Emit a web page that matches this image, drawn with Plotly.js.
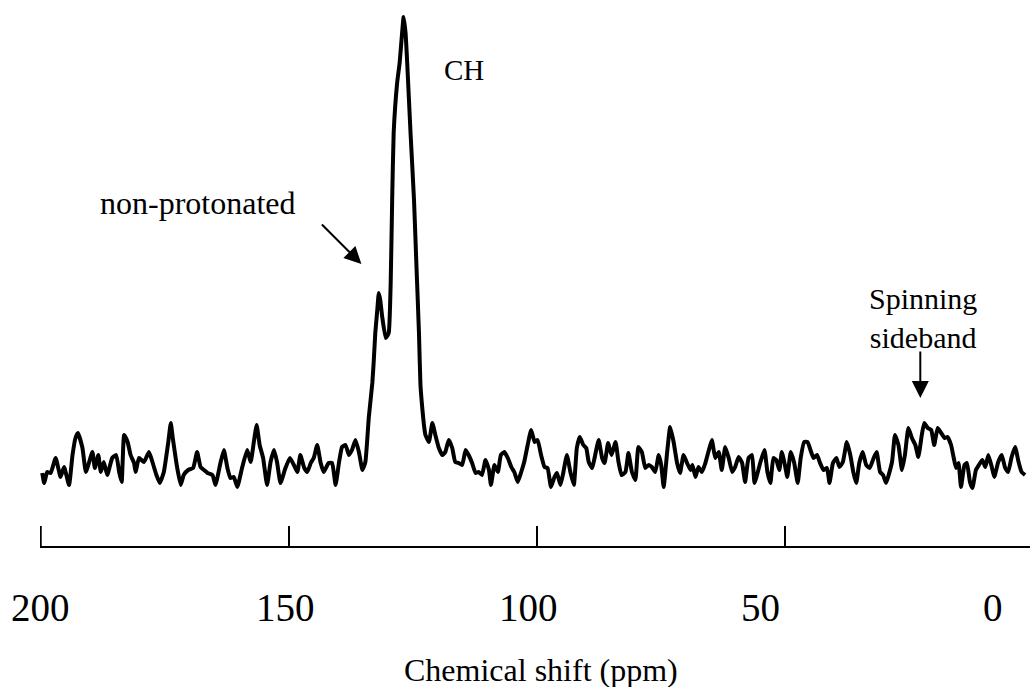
<!DOCTYPE html>
<html>
<head>
<meta charset="utf-8">
<script src="https://cdn.plot.ly/plotly-3.0.1.min.js"></script>
<style>html,body{margin:0;padding:0;background:#fff;}#chart{width:1030px;height:687px;}</style>
</head>
<body>
<div id="chart"></div>
<script>
// Chemical shift (ppm) of each sampled point of the spectrum
var shiftPpm = [
199.7,199.3,198.7,198.0,197.0,196.0,195.3,194.3,193.6,193.0,192.5,191.6,190.9,189.6,189.1,188.4,187.9,187.3,186.6,185.6,
184.8,184.2,183.7,183.2,182.5,181.9,181.2,180.9,180.2,179.2,178.2,177.5,176.7,176.0,175.2,174.3,173.8,173.4,172.5,171.8,
171.2,170.3,169.3,168.5,167.8,167.1,166.4,165.4,164.8,163.8,163.1,162.4,161.8,161.1,160.4,159.4,158.4,157.7,157.1,156.5,
155.9,155.2,154.4,153.7,153.0,152.4,151.7,150.7,149.8,149.0,148.3,147.7,146.9,146.3,145.6,145.0,144.3,143.6,143.0,142.0,
141.3,140.6,139.9,139.3,138.6,137.9,137.3,136.6,135.9,135.2,134.6,133.9,133.2,132.9,132.6,132.2,131.9,131.6,131.2,130.5,
129.9,129.5,129.2,128.9,128.2,127.7,127.2,126.9,126.5,126.2,125.5,124.8,124.3,123.8,123.5,123.1,122.8,122.5,121.8,121.1,
120.5,119.8,119.1,118.5,117.8,117.1,116.5,115.8,115.1,114.4,113.8,113.1,112.4,111.8,111.1,110.4,109.7,109.3,108.6,107.9,
107.3,106.6,105.9,105.2,104.6,103.9,103.2,102.6,101.9,101.2,100.5,99.9,99.2,98.5,97.9,97.2,96.5,96.0,95.3,94.7,
94.0,93.3,92.6,92.0,91.4,90.7,90.1,89.6,88.9,88.3,87.6,86.9,86.4,85.7,85.0,84.2,83.6,83.0,82.2,81.6,
80.9,80.2,79.6,78.9,78.2,77.5,76.9,76.2,75.5,75.0,74.5,73.8,73.2,72.5,71.8,71.2,70.5,69.8,69.1,68.7,
68.1,67.5,66.8,66.1,65.5,64.8,64.1,63.4,62.8,62.1,61.4,60.7,60.1,59.4,58.7,58.1,57.4,56.7,56.2,55.0,
54.2,53.6,53.0,52.4,51.8,51.2,50.7,50.0,49.6,48.9,48.2,47.5,46.9,46.2,45.5,44.8,44.3,43.6,43.0,42.3,
41.6,41.1,40.4,39.7,39.1,38.4,37.6,36.9,36.3,35.7,35.1,34.4,33.7,33.0,32.2,31.6,30.9,30.3,29.7,28.5,
27.9,27.2,26.5,25.9,25.2,24.5,23.8,23.2,22.5,22.0,21.3,20.6,20.0,19.3,18.6,17.9,17.3,16.6,16.1,15.6,
15.1,14.6,13.9,13.4,12.8,12.3,11.6,11.0,10.3,9.7,9.1,8.4,7.9,7.1,6.4,5.7,5.1,4.4,3.7,3.0,
2.4,1.7
];
// Signal intensity (arbitrary units) at each point
var intensity = [
7,-3,8,7,22,3,13,-5,25,42,47,32,8,28,12,25,8,18,5,22,
25,8,-2,45,38,25,17,8,22,18,28,18,5,-3,8,38,57,42,12,-5,
5,10,12,28,13,10,7,5,-5,17,30,12,2,3,-7,13,30,18,37,55,
35,22,-5,18,30,18,-3,12,22,15,8,25,12,8,17,22,35,17,8,17,
17,-5,18,33,35,25,30,40,28,10,18,63,97,120,147,170,187,180,163,142,
147,197,280,347,397,417,447,463,447,420,347,280,213,147,95,70,55,45,38,57,
45,32,25,28,40,32,18,17,15,30,25,17,7,8,5,20,10,-5,15,8,
25,28,22,13,8,-2,8,18,35,50,38,40,25,13,12,-7,3,7,-5,8,
25,8,-5,32,43,35,32,18,12,25,40,22,17,37,25,38,18,5,8,27,
8,0,33,28,12,15,13,8,25,15,-7,28,53,38,17,7,25,17,10,15,
3,13,8,17,28,40,22,28,10,33,22,8,13,23,17,-2,22,25,-3,18,
30,8,-3,22,20,10,28,13,3,28,17,-3,22,38,38,28,22,25,17,10,
12,-3,17,22,13,18,38,25,8,-3,17,28,15,12,22,28,8,5,-3,18,
45,35,10,25,52,42,35,23,45,57,52,50,35,52,47,42,43,35,23,12,
17,-7,15,17,-2,-8,10,15,20,13,25,13,3,18,25,12,8,23,33,18,
8,5
];
// Axis ticks and their printed labels
var tickValues = [200, 150, 100, 50];
var tickLabels = ['200', '150', '100', '50', '0'];
var tickLabelPpm = [200.0, 150.7, 101.75, 55.0, 8.1];
var xTitle = 'Chemical shift (ppm)';
// Peak annotations
var noteTexts = ['CH', 'non-protonated', 'Spinning<br>sideband'];
var notePpm = [114.8, 168.4, 22.2];
var noteIntensity = [410, 277, 162];
var arrowTipPpm = [135.4, 22.8];
var arrowTipIntensity = [216, 82];

var serif = 'Liberation Serif, Times New Roman, serif';
var noteSizes = [29, 32, 30];

var annotations = [];
for (var i = 0; i < tickLabels.length; i++) {
  annotations.push({
    x: tickLabelPpm[i], xref: 'x', y: -0.113, yref: 'paper',
    text: tickLabels[i], showarrow: false, xanchor: 'center', yanchor: 'middle',
    font: {family: serif, size: 39, color: '#000'}
  });
}
annotations.push({
  x: 0.506, xref: 'paper', y: -0.227, yref: 'paper',
  text: xTitle, showarrow: false, xanchor: 'center', yanchor: 'middle',
  font: {family: serif, size: 32, color: '#000'}
});
for (var j = 0; j < noteTexts.length; j++) {
  annotations.push({
    x: notePpm[j], xref: 'x', y: noteIntensity[j], yref: 'y',
    text: noteTexts[j], showarrow: false, xanchor: 'center', yanchor: 'middle',
    font: {family: serif, size: noteSizes[j], color: '#000'}
  });
}
var arrowOffsets = [[-41, -41], [0, -48]];
for (var k = 0; k < arrowTipPpm.length; k++) {
  annotations.push({
    x: arrowTipPpm[k], xref: 'x', y: arrowTipIntensity[k], yref: 'y',
    text: '', showarrow: true, ax: arrowOffsets[k][0], ay: arrowOffsets[k][1],
    arrowhead: 2, arrowsize: 1.7, arrowwidth: 2, arrowcolor: '#000', standoff: 0
  });
}

// The edge tick (Plotly hides an inside tick at the very end of the axis)
var shapes = [{
  type: 'line', xref: 'x', yref: 'paper',
  x0: tickValues[0], x1: tickValues[0], y0: 0, y1: 20 / 546,
  line: {color: '#000', width: 2}
}];

var trace = {
  x: shiftPpm, y: intensity, type: 'scatter', mode: 'lines',
  line: {color: '#000', width: 4, shape: 'spline', smoothing: 0.4},
  hoverinfo: 'skip'
};

var layout = {
  width: 1030, height: 687,
  margin: {l: 40, r: 0, t: 0, b: 141},
  paper_bgcolor: '#fff', plot_bgcolor: '#fff',
  showlegend: false,
  xaxis: {
    range: [200.15, 0.7], autorange: false,
    tickmode: 'array', tickvals: tickValues, showticklabels: false,
    ticks: 'inside', ticklen: 20, tickwidth: 2, tickcolor: '#000',
    showline: true, linecolor: '#000', linewidth: 2,
    showgrid: false, zeroline: false, fixedrange: true
  },
  yaxis: {range: [-66, 480], autorange: false, visible: false, fixedrange: true},
  shapes: shapes,
  annotations: annotations
};

Plotly.newPlot('chart', [trace], layout, {staticPlot: true, displayModeBar: false});
</script>
</body>
</html>
